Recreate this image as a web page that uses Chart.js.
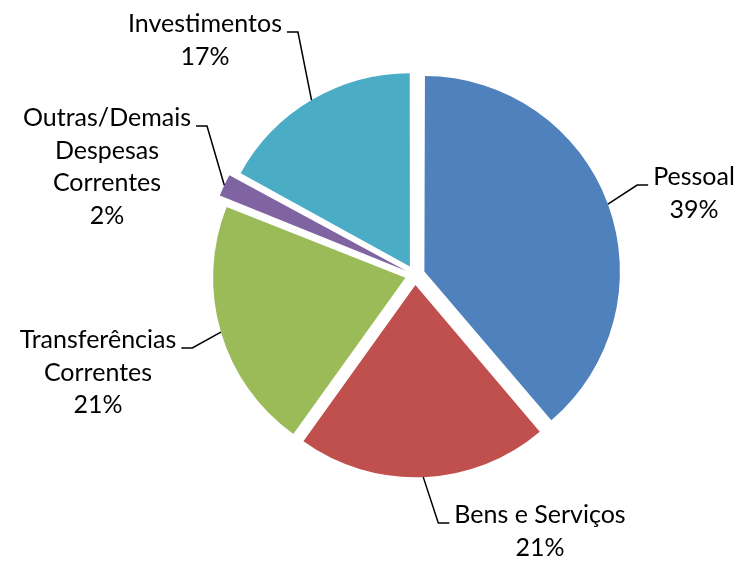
<!DOCTYPE html>
<html>
<head>
<meta charset="utf-8">
<script src="https://cdn.jsdelivr.net/npm/chart.js@4.4.0/dist/chart.umd.min.js"></script>
<style>
  html, body { margin: 0; padding: 0; background: #fff; }
  #chart { display: block; }
</style>
</head>
<body>
<canvas id="chart" width="742" height="563"></canvas>
<script>
const categories = ['Pessoal', 'Bens e Serviços', 'Transferências Correntes', 'Outras/Demais Despesas Correntes', 'Investimentos'];
const labelLines = [['Pessoal'], ['Bens e Serviços'], ['Transferências', 'Correntes'], ['Outras/Demais', 'Despesas', 'Correntes'], ['Investimentos']];
const shares = [38.8, 21.1, 21.1, 2.0, 17.0];
const sliceColors = ['#4F81BD', '#C0504D', '#9BBB59', '#8064A2', '#4BACC6'];

// label blocks: centre x, baseline of first line, which side the leader hooks on
const labelPos = [
  { x: 694, y: 185, hook: 'left' },
  { x: 540, y: 523, hook: 'left' },
  { x: 98, y: 348, hook: 'right' },
  { x: 107, y: 126, hook: 'right' },
  { x: 205, y: 32, hook: 'right' },
];
const LINE_H = 32.5;

const calloutLabels = {
  id: 'calloutLabels',
  afterDatasetsDraw(chart) {
    const ctx = chart.ctx;
    const arcs = chart.getDatasetMeta(0).data;
    const total = shares.reduce((a, b) => a + b, 0);
    ctx.save();
    ctx.font = '25px Lato';
    ctx.fillStyle = '#000';
    ctx.strokeStyle = '#000';
    ctx.lineWidth = 1.5;
    ctx.textAlign = 'center';
    ctx.textBaseline = 'alphabetic';
    arcs.forEach((arc, i) => {
      const pos = labelPos[i];
      const lines = labelLines[i].concat(Math.round(shares[i] / total * 100) + '%');
      lines.forEach((t, k) => ctx.fillText(t, pos.x, pos.y + k * LINE_H));

      // leader line: short horizontal stub, then to the middle of the slice's rim
      const a = arc.getProps(['x', 'y', 'startAngle', 'endAngle', 'outerRadius', 'circumference'], true);
      const mid = (a.startAngle + a.endAngle) / 2;
      const off = (arc.options.offset || 0) / 4;
      const fix = 1 - Math.sin(Math.min(Math.PI, a.circumference));
      const r = off + a.outerRadius + off * fix;
      const ex = a.x + Math.cos(mid) * r;
      const ey = a.y + Math.sin(mid) * r;
      const w = ctx.measureText(lines[0]).width;
      const dir = pos.hook === 'left' ? -1 : 1;
      const x0 = pos.x + dir * (w / 2 + 5);
      const x1 = x0 + dir * 11;
      ctx.beginPath();
      ctx.moveTo(x0, pos.y);
      ctx.lineTo(x1, pos.y);
      ctx.lineTo(ex, ey);
      ctx.stroke();
    });
    ctx.restore();
  }
};

const ctx = document.getElementById('chart').getContext('2d');
new Chart(ctx, {
  type: 'pie',
  data: {
    labels: categories,
    datasets: [{
      data: shares,
      backgroundColor: sliceColors,
      borderWidth: 0,
      offset: 40,
    }],
  },
  options: {
    responsive: false,
    animation: false,
    devicePixelRatio: 1,
    radius: 192,
    layout: { padding: { left: 88, right: 0, top: 0, bottom: 13 } },
    plugins: {
      legend: { display: false },
      tooltip: { enabled: false },
    },
  },
  plugins: [calloutLabels],
});
</script>
</body>
</html>
